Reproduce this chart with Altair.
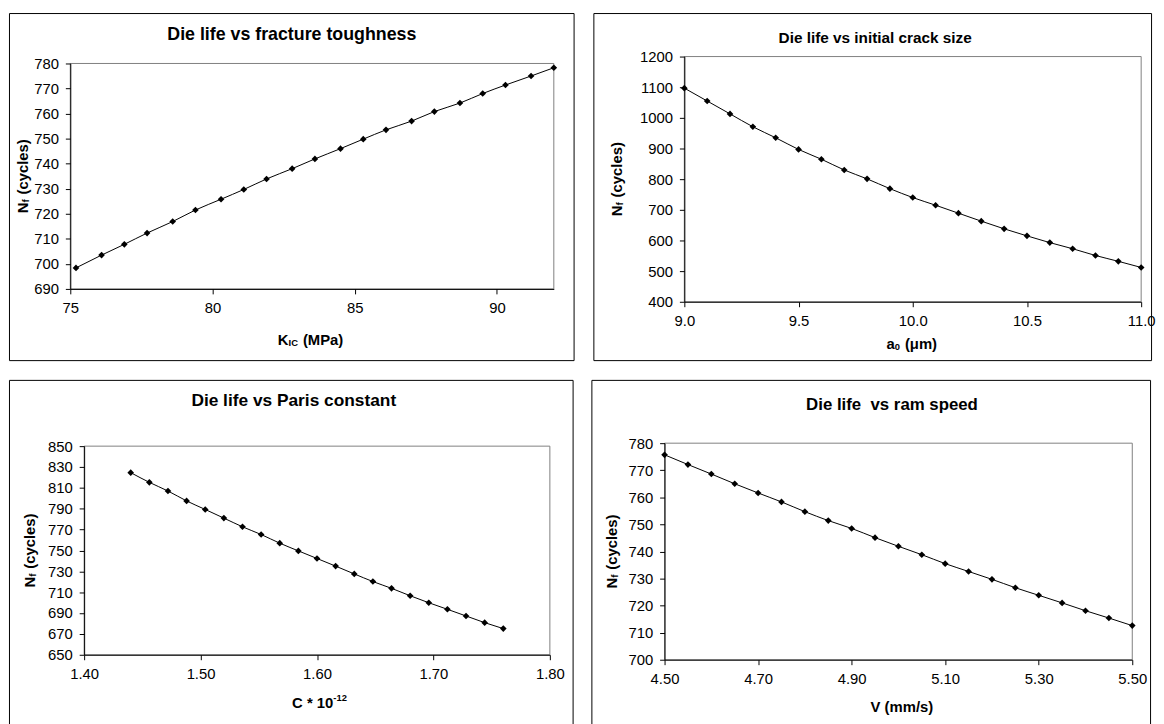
import altair as alt
import pandas as pd

FONT = "Liberation Sans"
NB = "\u00a0"

# ---------------- data ----------------
kic = [75.2, 76.1, 76.9, 77.7, 78.6, 79.4, 80.3, 81.1, 81.9, 82.8, 83.6,
       84.5, 85.3, 86.1, 87.0, 87.8, 88.7, 89.5, 90.3, 91.2, 92.0]
nf_kic = [698.4, 703.5, 707.8, 712.3, 716.9, 721.5, 725.8, 729.7, 733.9, 738.0, 741.9,
          746.0, 749.8, 753.5, 757.0, 760.8, 764.2, 768.0, 771.4, 775.0, 778.3]

a0 = [9.0, 9.1, 9.2, 9.3, 9.4, 9.5, 9.6, 9.7, 9.8, 9.9, 10.0,
      10.1, 10.2, 10.3, 10.4, 10.5, 10.6, 10.7, 10.8, 10.9, 11.0]
nf_a0 = [1097, 1055, 1013, 971, 935, 897, 865, 830, 801, 769, 740,
         715, 689, 663, 638, 615, 593, 573, 551, 532, 512]

paris_c = [1.440, 1.456, 1.472, 1.488, 1.504, 1.520, 1.536, 1.552, 1.568, 1.584, 1.600,
           1.616, 1.632, 1.648, 1.664, 1.680, 1.696, 1.712, 1.728, 1.744, 1.760]
nf_c = [824.6, 815.3, 807.0, 797.5, 789.3, 781.0, 772.7, 765.3, 757.0, 749.6, 742.3,
        735.0, 727.5, 720.2, 713.7, 706.6, 699.9, 693.6, 687.2, 680.8, 675.1]

ram_v = [4.50, 4.55, 4.60, 4.65, 4.70, 4.75, 4.80, 4.85, 4.90, 4.95, 5.00,
         5.05, 5.10, 5.15, 5.20, 5.25, 5.30, 5.35, 5.40, 5.45, 5.50]
nf_v = [775.7, 772.1, 768.6, 765.0, 761.6, 758.3, 754.7, 751.4, 748.5, 745.1, 741.9,
        738.8, 735.5, 732.6, 729.7, 726.6, 723.8, 721.0, 718.1, 715.4, 712.6]

ticks_kic = [75, 80, 85, 90]
ticks_nf1 = [690, 700, 710, 720, 730, 740, 750, 760, 770, 780]
ticks_a0 = [9.0, 9.5, 10.0, 10.5, 11.0]
ticks_nf2 = [400, 500, 600, 700, 800, 900, 1000, 1100, 1200]
ticks_c = [1.40, 1.50, 1.60, 1.70, 1.80]
ticks_nf3 = [650, 670, 690, 710, 730, 750, 770, 790, 810, 830, 850]
ticks_v = [4.50, 4.70, 4.90, 5.10, 5.30, 5.50]
ticks_nf4 = [700, 710, 720, 730, 740, 750, 760, 770, 780]

# ---------------- helpers ----------------
BOLD_W = {' ': 278, NB: 278, '(': 333, ')': 333, '*': 389, '-': 333, '/': 278, 'C': 722,
          'I': 278, 'K': 722, 'M': 833, 'N': 722, 'P': 667, 'V': 667, 'a': 556, 'c': 556,
          'e': 556, 'f': 333, 'l': 278, 's': 556, 'y': 556, 'm': 889, 'μ': 611}


def tw(s, size):
    return sum(BOLD_W.get(ch, 556) for ch in s) * size / 1000.0


ONE = pd.DataFrame({"k": [0]})


def text_layer(txt, px, py, size, angle=0, align="center"):
    props = dict(text=txt, font=FONT, fontSize=size, fontWeight="bold", align=align,
                 baseline="middle", color="black")
    if angle:
        props["angle"] = angle
    return alt.Chart(ONE).mark_text(**props).encode(x=alt.value(px), y=alt.value(py))


def composite(pieces, cx, cy, vertical=False):
    # pieces: (text, font size, baseline shift, gap before)
    total = sum(tw(t, s) + g for t, s, _, g in pieces)
    layers = []
    off = 0.0
    for t, s, shift, gap in pieces:
        off += gap
        if vertical:
            layers.append(text_layer(t, cx + shift, cy + total / 2 - off, s, angle=270, align="left"))
        else:
            layers.append(text_layer(t, cx - total / 2 + off, cy + shift, s, align="left"))
        off += tw(t, s)
    return layers


def panel(xs, ys, xdom, ydom, xticks, yticks, xfmt, BW, BH, plot,
          title, tsize, tcx, tcy, ycx, xpieces, xcx, xcy):
    pl, pr, pt, pb = plot
    df = pd.DataFrame({"x": xs, "y": ys})
    axis_common = dict(title=None, grid=False, domainColor="black", domainWidth=1,
                       tickColor="black", tickWidth=1, tickSize=5, labelFont=FONT,
                       labelFontSize=15, labelColor="black", labelPadding=7,
                       labelFlush=False, labelOverlap=False, zindex=1)
    base = alt.Chart(df).encode(
        x=alt.X("x:Q", scale=alt.Scale(domain=xdom, range=[pl, pr], nice=False, zero=False),
                axis=alt.Axis(values=xticks, format=xfmt, offset=-(BH - pb), **axis_common)),
        y=alt.Y("y:Q", scale=alt.Scale(domain=ydom, range=[pb, pt], nice=False, zero=False),
                axis=alt.Axis(values=yticks, format="d", offset=-pl, **axis_common)),
    )
    plot_border = alt.Chart(ONE).mark_rect(fill="transparent", stroke="#808080", strokeWidth=1).encode(
        x=alt.value(pl), x2=alt.value(pr), y=alt.value(pt), y2=alt.value(pb))
    line = base.mark_line(color="black", strokeWidth=1, interpolate="monotone")
    pts = base.mark_point(shape="diamond", filled=True, size=45, color="black", opacity=1)
    layers = [plot_border, line, pts, text_layer(title, tcx, tcy, tsize)]
    layers += composite([("N", 15, 0, 0), ("f", 9.5, 3, 0), ("(cycles)", 15, 0, 5)],
                        ycx, (pt + pb) / 2, vertical=True)
    layers += composite(xpieces, xcx, xcy)
    return alt.layer(*layers).properties(width=BW, height=BH)


p1 = panel(kic, nf_kic, [75, 92], [690, 780], ticks_kic, ticks_nf1, "d",
           571, 351, (62, 551, 51, 279),
           "Die life vs fracture toughness", 18, 286, 22, 14,
           [("K", 15, 0, 0), ("IC", 9.5, 3, 0), ("(MPa)", 15, 0, 5)], 305, 331)

p2 = panel(a0, nf_a0, [9.0, 11.0], [400, 1200], ticks_a0, ticks_nf2, ".1f",
           564, 351, (92, 554, 44, 292),
           "Die life vs initial crack size", 15.5, 285, 25, 24,
           [("a", 15, 0, 0), ("0", 9.5, 3, 0), ("(μm)", 15, 0, 5)], 322, 335)

p3 = panel(paris_c, nf_c, [1.40, 1.80], [650, 850], ticks_c, ticks_nf3, ".2f",
           570, 352, (76, 547, 67, 278),
           "Die life vs Paris constant", 17.5, 288, 21, 21,
           [("C" + NB + "*" + NB + "10", 15, 0, 0), ("-12", 9.5, -5, 0)], 314, 327)

p4 = panel(ram_v, nf_v, [4.50, 5.50], [700, 780], ticks_v, ticks_nf4, ".2f",
           565, 352, (74, 547, 64, 283),
           "Die life" + NB + " vs ram speed", 17, 304, 25, 21,
           [("V" + NB + "(mm/s)", 15, 0, 0)], 314, 331)

row1 = alt.hconcat(p1, p2, spacing=20, bounds="flush")
row2 = alt.hconcat(p3, p4, spacing=19, bounds="flush")

chart = alt.vconcat(row1, row2, spacing=18).properties(
    padding=0, background="white"
).configure_view(stroke="black", strokeWidth=1)

chart.save("out.html", embed_options={"renderer": "svg", "actions": False})
